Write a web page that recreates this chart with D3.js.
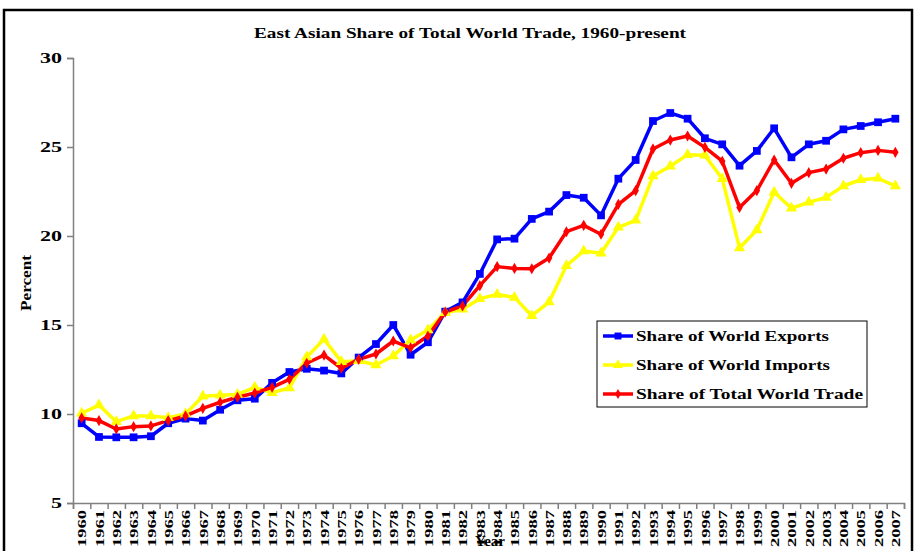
<!DOCTYPE html>
<html><head><meta charset="utf-8">
<script src="https://cdn.jsdelivr.net/npm/d3@7"></script>
<style>
html,body{margin:0;padding:0;background:#fff;}
svg{display:block;}
svg text{font-family:"Liberation Serif","Times New Roman",Tinos,"DejaVu Serif",serif !important;font-weight:bold;}
</style></head>
<body><svg id="chart" width="916" height="551"></svg>
<script>
const years = d3.range(1960, 2008).map(String);
const exportsShare = [9.48,8.71,8.69,8.69,8.75,9.48,9.74,9.63,10.24,10.77,10.86,11.75,12.36,12.54,12.44,12.28,13.17,13.93,15.0,13.33,14.03,15.75,16.27,17.87,19.81,19.85,20.96,21.37,22.3,22.15,21.16,23.22,24.27,26.46,26.91,26.59,25.49,25.15,23.95,24.78,26.05,24.42,25.15,25.35,25.99,26.18,26.39,26.59];
const importsShare = [10.04,10.5,9.57,9.89,9.89,9.79,10.0,11.0,11.05,11.1,11.5,11.2,11.46,13.2,14.2,12.94,12.99,12.75,13.26,14.16,14.72,15.69,15.88,16.48,16.72,16.55,15.52,16.29,18.33,19.16,19.03,20.49,20.88,23.37,23.92,24.57,24.53,23.22,19.33,20.34,22.46,21.56,21.89,22.17,22.81,23.16,23.24,22.81];
const tradeShare = [9.78,9.63,9.16,9.29,9.33,9.63,9.89,10.32,10.66,10.94,11.18,11.5,11.95,12.85,13.31,12.57,13.07,13.37,14.1,13.72,14.38,15.73,16.07,17.21,18.28,18.18,18.16,18.76,20.24,20.6,20.1,21.78,22.55,24.89,25.39,25.62,24.98,24.2,21.6,22.55,24.27,22.96,23.56,23.76,24.37,24.68,24.81,24.7];
const yTicks = [5,10,15,20,25,30];
const seriesNames = ["Share of World Exports","Share of World Imports","Share of Total World Trade"];

const series = [
  {name: seriesNames[0], values: exportsShare, color: "#0000FF", symbol: d3.symbolSquare, size: 60},
  {name: seriesNames[1], values: importsShare, color: "#FFFF00", symbol: d3.symbolTriangle, size: 55},
  {name: seriesNames[2], values: tradeShare, color: "#FF0000", symbol: d3.symbolDiamond, size: 36}
];
const legendWidths = [193, 194, 227];

const svg = d3.select("#chart");
const pLeft = 73, pRight = 904, pTop = 58, pBottom = 503;

// frame
svg.append("rect").attr("x",4).attr("y",10).attr("width",908).attr("height",600)
  .attr("fill","none").attr("stroke","#000").attr("stroke-width",2.5);

const x = d3.scaleBand().domain(years).range([pLeft, pRight]).padding(0);
const xb = d3.scaleLinear().domain([0, years.length]).range([pLeft, pRight]);
const y = d3.scaleLinear().domain([5, 30]).range([pBottom, pTop]);

// title
svg.append("text").attr("x", 470).attr("y", 38).attr("text-anchor","middle")
  .attr("font-size", 15).attr("textLength", 432).attr("lengthAdjust","spacingAndGlyphs")
  .text("East Asian Share of Total World Trade, 1960-present");

// y axis
const ya = svg.append("g").attr("transform", `translate(${pLeft},0)`)
  .call(d3.axisLeft(y).tickValues(yTicks).tickSize(6).tickPadding(5).tickFormat(d3.format("d")));
ya.select(".domain").attr("stroke","#808080").attr("stroke-width",1.5);
ya.selectAll(".tick line").attr("stroke","#808080").attr("stroke-width",1.5);
ya.selectAll("text").attr("font-size",15).attr("fill","#000")
  .attr("textLength", d => String(d).length * 11).attr("lengthAdjust","spacingAndGlyphs");

// x axis ticks at category boundaries
const xa = svg.append("g").attr("transform", `translate(0,${pBottom})`)
  .call(d3.axisBottom(xb).tickValues(d3.range(years.length + 1)).tickSize(6).tickFormat(""));
xa.select(".domain").attr("stroke","#808080").attr("stroke-width",1.5);
xa.selectAll(".tick line").attr("stroke","#808080").attr("stroke-width",1.5);

// x labels
const xl = svg.append("g").attr("transform", `translate(0,${pBottom})`)
  .call(d3.axisBottom(x).tickSize(0).tickPadding(0));
xl.select(".domain").remove();
xl.selectAll("text").attr("font-size",13.5).attr("fill","#000")
  .attr("text-anchor","end").attr("transform","rotate(-90)")
  .attr("x",-7).attr("y",0).attr("dy","0.35em")
  .attr("textLength",37).attr("lengthAdjust","spacingAndGlyphs");

// axis titles
svg.append("text").attr("x", 490).attr("y", 546).attr("text-anchor","middle")
  .attr("font-size",15).text("Year");
svg.append("text").attr("transform","translate(31,283) rotate(-90)").attr("text-anchor","middle")
  .attr("font-size",14).attr("textLength",56).attr("lengthAdjust","spacingAndGlyphs").text("Percent");

// lines
const cx = d => x(d) + x.bandwidth()/2;
series.forEach(s => {
  const line = d3.line().x((v,i) => cx(years[i])).y(v => y(v));
  svg.append("path").datum(s.values).attr("d", line).attr("fill","none")
    .attr("stroke", s.color).attr("stroke-width",3.5).attr("stroke-linejoin","round");
});
series.forEach(s => {
  svg.append("g").selectAll("path").data(s.values).join("path")
    .attr("d", d3.symbol().type(s.symbol).size(s.size))
    .attr("transform",(v,i) => `translate(${cx(years[i])},${y(v)})`)
    .attr("fill", s.color);
});

// legend
const lg = svg.append("g");
lg.append("rect").attr("x",597).attr("y",321).attr("width",270).attr("height",86)
  .attr("fill","#fff").attr("stroke","#000").attr("stroke-width",1);
series.forEach((s,i) => {
  const ly = 336 + i*29;
  lg.append("line").attr("x1",603).attr("x2",633).attr("y1",ly).attr("y2",ly)
    .attr("stroke", s.color).attr("stroke-width",3.5);
  lg.append("path").attr("d", d3.symbol().type(s.symbol).size(s.size*0.8))
    .attr("transform",`translate(618,${ly})`).attr("fill", s.color);
  lg.append("text").attr("x",636).attr("y",ly).attr("dy","0.35em")
    .attr("font-size",15.5).attr("textLength", legendWidths[i]).attr("lengthAdjust","spacingAndGlyphs")
    .text(s.name);
});
</script></body></html>
